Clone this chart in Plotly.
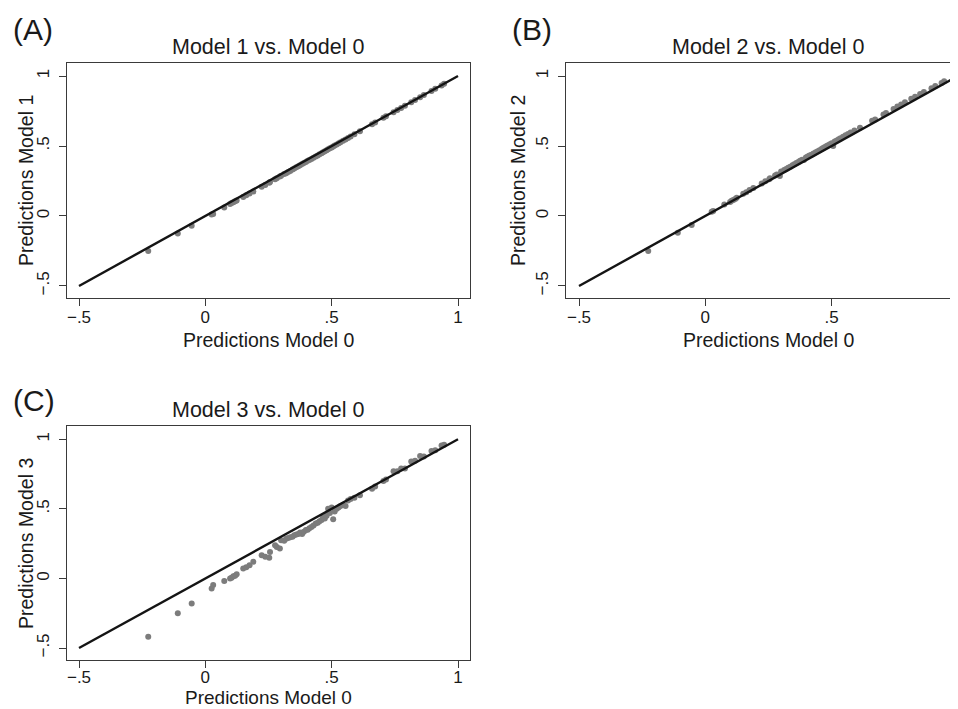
import plotly.graph_objects as go

# ---------------- data ----------------
pred_model0 = [-0.226, -0.109, -0.054, 0.025, 0.031, 0.075, 0.098, 0.104, 0.111, 0.118,
               0.124, 0.150, 0.162, 0.175, 0.190, 0.223, 0.237, 0.253, 0.256, 0.276,
               0.283, 0.295, 0.300, 0.312, 0.320, 0.328, 0.336, 0.345, 0.352, 0.360,
               0.368, 0.375, 0.383, 0.390, 0.398, 0.405, 0.412, 0.420, 0.428, 0.437,
               0.445, 0.452, 0.460, 0.466, 0.473, 0.480, 0.486, 0.493, 0.500, 0.506,
               0.512, 0.520, 0.528, 0.535, 0.545, 0.555, 0.565, 0.575, 0.590, 0.612,
               0.660, 0.672, 0.705, 0.715, 0.745, 0.760, 0.775, 0.790, 0.815, 0.830,
               0.850, 0.865, 0.895, 0.910, 0.935, 0.945]

pred_model1 = [-0.250, -0.125, -0.070, 0.010, 0.015, 0.060, 0.085, 0.092, 0.098, 0.105,
               0.110, 0.135, 0.148, 0.160, 0.175, 0.208, 0.222, 0.238, 0.242, 0.262,
               0.270, 0.282, 0.288, 0.300, 0.306, 0.315, 0.322, 0.332, 0.340, 0.348,
               0.356, 0.362, 0.371, 0.378, 0.386, 0.394, 0.400, 0.408, 0.416, 0.425,
               0.433, 0.441, 0.448, 0.455, 0.462, 0.470, 0.476, 0.484, 0.490, 0.496,
               0.503, 0.510, 0.519, 0.526, 0.537, 0.547, 0.557, 0.567, 0.584, 0.606,
               0.656, 0.668, 0.702, 0.712, 0.742, 0.758, 0.772, 0.788, 0.812, 0.829,
               0.848, 0.864, 0.893, 0.909, 0.933, 0.944]

pred_model2 = [-0.250, -0.120, -0.065, 0.030, 0.035, 0.082, 0.100, 0.108, 0.115, 0.122,
               0.130, 0.158, 0.170, 0.185, 0.200, 0.232, 0.248, 0.262, 0.270, 0.290,
               0.296, 0.285, 0.318, 0.328, 0.336, 0.345, 0.352, 0.362, 0.370, 0.378,
               0.386, 0.394, 0.402, 0.400, 0.418, 0.425, 0.432, 0.438, 0.446, 0.456,
               0.462, 0.470, 0.478, 0.486, 0.492, 0.500, 0.506, 0.512, 0.520, 0.500,
               0.532, 0.540, 0.548, 0.556, 0.566, 0.576, 0.586, 0.596, 0.610, 0.630,
               0.680, 0.690, 0.725, 0.735, 0.765, 0.782, 0.796, 0.812, 0.838, 0.852,
               0.872, 0.886, 0.912, 0.928, 0.950, 0.962]

pred_model3 = [-0.419, -0.251, -0.180, -0.072, -0.048, -0.019, 0.000, 0.005, 0.015, 0.020,
               0.030, 0.072, 0.080, 0.095, 0.120, 0.167, 0.155, 0.148, 0.190, 0.239,
               0.225, 0.215, 0.275, 0.270, 0.285, 0.290, 0.295, 0.300, 0.310, 0.315,
               0.320, 0.330, 0.320, 0.335, 0.347, 0.350, 0.360, 0.370, 0.380, 0.395,
               0.400, 0.410, 0.420, 0.440, 0.430, 0.450, 0.500, 0.470, 0.510, 0.426,
               0.480, 0.500, 0.510, 0.520, 0.530, 0.520, 0.560, 0.570, 0.580, 0.598,
               0.645, 0.660, 0.700, 0.710, 0.770, 0.770, 0.790, 0.790, 0.840, 0.845,
               0.880, 0.875, 0.915, 0.920, 0.955, 0.960]

ref_line_x = [-0.5, 1.0]
ref_line_y = [-0.5, 1.0]

tick_vals = [-0.5, 0, 0.5, 1]
tick_text = ["\u2212.5", "0", ".5", "1"]

panel_letters = ["(A)", "(B)", "(C)"]
panel_titles = ["Model 1 vs. Model 0", "Model 2 vs. Model 0", "Model 3 vs. Model 0"]
y_titles = ["Predictions Model 1", "Predictions Model 2", "Predictions Model 3"]
x_title = "Predictions Model 0"

# ---------------- layout helpers ----------------
OFF = 8            # page body margin of the html page
W, H = 958 - OFF, 709 - OFF
FONT = "Liberation Sans, Arial, Helvetica, sans-serif"
TXT = "#1a1a1a"
PT_COLOR = "#7c7c7c"


def px(x):
    return (x - OFF) / W


def py(y):
    return 1 - (y - OFF) / H


fig = go.Figure()

series = [pred_model1, pred_model2, pred_model3]
for i, ys in enumerate(series):
    sfx = "" if i == 0 else str(i + 1)
    fig.add_trace(go.Scatter(x=pred_model0, y=ys, mode="markers",
                             marker=dict(color=PT_COLOR, size=6, line=dict(width=0)),
                             xaxis="x" + sfx, yaxis="y" + sfx, showlegend=False))
    fig.add_trace(go.Scatter(x=ref_line_x, y=ref_line_y, mode="lines",
                             line=dict(color="#141414", width=2.4),
                             xaxis="x" + sfx, yaxis="y" + sfx, showlegend=False))

# panel boxes in screen pixel coordinates (left, right, top, bottom)
boxes = [(67, 470, 63, 298), (566, 958, 63, 298), (67, 470, 426, 660)]
x_ranges = [[-0.5475, 1.0475], [-0.5515, 1.0], [-0.5475, 1.0475]]
y_ranges = [[-0.586, 1.093], [-0.586, 1.093], [-0.586, 1.095]]
x_standoffs = [-3, -3, -5]

axis_common = dict(showgrid=False, zeroline=False, showline=True, linecolor="#3a3a3a",
                   linewidth=1, ticks="outside", ticklen=7, tickcolor="#3a3a3a",
                   tickwidth=1, tickvals=tick_vals, ticktext=tick_text,
                   tickfont=dict(family=FONT, size=17, color=TXT), automargin=False)

layout_axes = {}
for i, (l, r, t, b) in enumerate(boxes):
    sfx = "" if i == 0 else str(i + 1)
    layout_axes["xaxis" + sfx] = dict(axis_common, domain=[px(l), min(1.0, px(r))],
                                      range=x_ranges[i], mirror=True,
                                      anchor="y" + sfx, ticklabelstandoff=x_standoffs[i])
    layout_axes["yaxis" + sfx] = dict(axis_common, domain=[py(b), py(t)],
                                      range=y_ranges[i], mirror=(i != 1),
                                      anchor="x" + sfx, tickangle=-90,
                                      ticklabelstandoff=3)

annotations = []
# panel letters
letter_pos = [(11, 30), (510, 30), (11, 400)]
for (lx, ly), txt in zip(letter_pos, panel_letters):
    annotations.append(dict(text=txt, x=px(lx), y=py(ly), xref="paper", yref="paper",
                            xanchor="left", yanchor="middle", showarrow=False,
                            font=dict(family=FONT, size=30, color=TXT)))
# panel titles
title_pos = [(268, 47), (768, 47), (268, 410)]
for (tx, ty), txt in zip(title_pos, panel_titles):
    annotations.append(dict(text=txt, x=px(tx), y=py(ty), xref="paper", yref="paper",
                            xanchor="center", yanchor="middle", showarrow=False,
                            font=dict(family=FONT, size=21.5, color=TXT)))
# x axis titles
xt_specs = [(268, 340, "middle", 19.5), (768, 340, "middle", 19.5), (268, 709, "bottom", 19)]
for (tx, ty, anc, fs) in xt_specs:
    annotations.append(dict(text=x_title, x=px(tx), y=py(ty), xref="paper", yref="paper",
                            xanchor="center", yanchor=anc, showarrow=False,
                            borderpad=0,
                            font=dict(family=FONT, size=fs, color=TXT)))
# y axis titles
yt_pos = [(26, 181), (518, 181), (26, 544)]
for (tx, ty), txt in zip(yt_pos, y_titles):
    annotations.append(dict(text=txt, x=px(tx), y=py(ty), xref="paper", yref="paper",
                            xanchor="center", yanchor="middle", showarrow=False,
                            textangle=-90,
                            font=dict(family=FONT, size=19.5, color=TXT)))

fig.update_layout(width=W, height=H, margin=dict(l=0, r=0, t=0, b=0),
                  paper_bgcolor="white", plot_bgcolor="white",
                  font=dict(family=FONT, color=TXT),
                  annotations=annotations, **layout_axes)

fig.write_html("out.html")
